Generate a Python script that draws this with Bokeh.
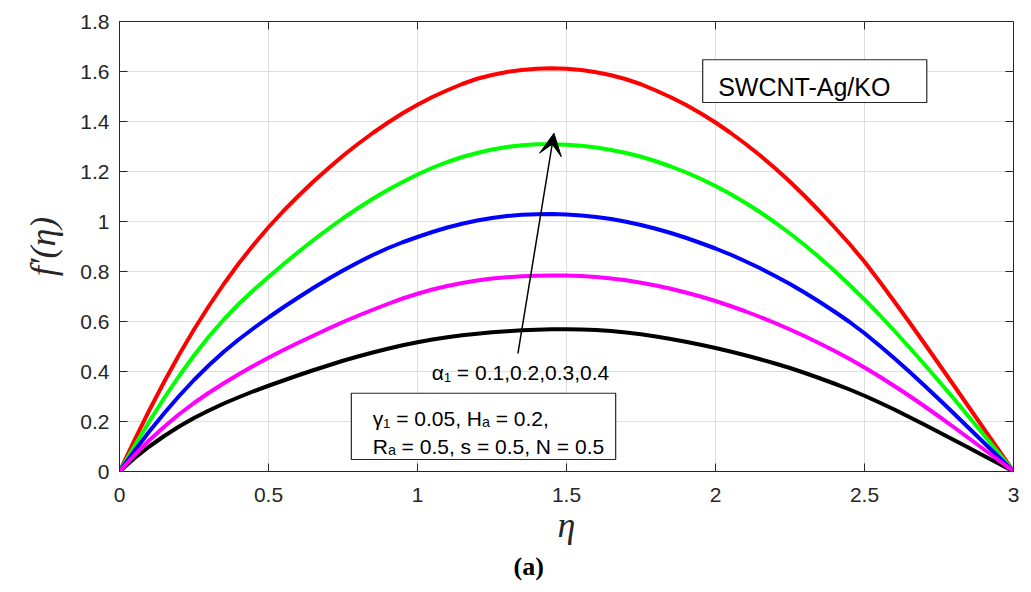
from bokeh.plotting import figure
from bokeh.models import Range1d, FixedTicker, Label, BoxAnnotation, Arrow, VeeHead, Title
from bokeh.embed import file_html
from bokeh.resources import INLINE

eta = [0.00, 0.05, 0.10, 0.15, 0.20, 0.25, 0.30, 0.35, 0.40, 0.45,
       0.50, 0.55, 0.60, 0.65, 0.70, 0.75, 0.80, 0.85, 0.90, 0.95,
       1.00, 1.05, 1.10, 1.15, 1.20, 1.25, 1.30, 1.35, 1.40, 1.45,
       1.50, 1.55, 1.60, 1.65, 1.70, 1.75, 1.80, 1.85, 1.90, 1.95,
       2.00, 2.05, 2.10, 2.15, 2.20, 2.25, 2.30, 2.35, 2.40, 2.45,
       2.50, 2.55, 2.60, 2.65, 2.70, 2.75, 2.80, 2.85, 2.90, 2.95, 3.00]

f_red = [0.000, 0.125, 0.245, 0.359, 0.467, 0.568, 0.662, 0.750, 0.832, 0.907,
         0.977, 1.042, 1.102, 1.159, 1.212, 1.263, 1.310, 1.354, 1.395, 1.433,
         1.467, 1.498, 1.525, 1.550, 1.571, 1.586, 1.598, 1.606, 1.611, 1.613,
         1.611, 1.606, 1.597, 1.585, 1.569, 1.549, 1.524, 1.497, 1.467, 1.433,
         1.396, 1.355, 1.311, 1.264, 1.213, 1.159, 1.101, 1.040, 0.976, 0.910,
         0.839, 0.761, 0.680, 0.598, 0.514, 0.429, 0.344, 0.258, 0.172, 0.086, 0.000]
f_green = [0.000, 0.102, 0.200, 0.294, 0.382, 0.464, 0.540, 0.608, 0.670, 0.726,
           0.778, 0.829, 0.878, 0.925, 0.970, 1.013, 1.053, 1.091, 1.126, 1.158,
           1.188, 1.215, 1.238, 1.258, 1.274, 1.288, 1.298, 1.305, 1.309, 1.309,
           1.307, 1.303, 1.296, 1.286, 1.274, 1.259, 1.241, 1.220, 1.197, 1.171,
           1.142, 1.110, 1.075, 1.037, 0.996, 0.952, 0.905, 0.855, 0.802, 0.746,
           0.688, 0.627, 0.563, 0.497, 0.430, 0.361, 0.291, 0.219, 0.147, 0.074, 0.000]
f_blue = [0.000, 0.082, 0.160, 0.233, 0.302, 0.366, 0.425, 0.479, 0.528, 0.573,
          0.616, 0.657, 0.696, 0.734, 0.770, 0.804, 0.836, 0.866, 0.893, 0.917,
          0.938, 0.958, 0.976, 0.991, 1.004, 1.014, 1.022, 1.027, 1.029, 1.030,
          1.028, 1.024, 1.018, 1.010, 0.999, 0.986, 0.971, 0.954, 0.935, 0.914,
          0.892, 0.868, 0.841, 0.813, 0.782, 0.750, 0.715, 0.678, 0.639, 0.598,
          0.553, 0.504, 0.453, 0.400, 0.345, 0.289, 0.232, 0.174, 0.116, 0.058, 0.000]
f_magenta = [0.000, 0.065, 0.125, 0.179, 0.229, 0.274, 0.315, 0.353, 0.389, 0.423,
             0.455, 0.486, 0.515, 0.543, 0.571, 0.598, 0.623, 0.647, 0.670, 0.692,
             0.711, 0.728, 0.742, 0.754, 0.764, 0.772, 0.777, 0.781, 0.783, 0.784,
             0.784, 0.782, 0.778, 0.772, 0.765, 0.755, 0.744, 0.731, 0.716, 0.700,
             0.682, 0.662, 0.641, 0.618, 0.594, 0.568, 0.541, 0.512, 0.482, 0.450,
             0.416, 0.380, 0.342, 0.303, 0.262, 0.220, 0.177, 0.133, 0.089, 0.045, 0.000]
f_black = [0.000, 0.053, 0.100, 0.142, 0.180, 0.214, 0.244, 0.272, 0.297, 0.321,
           0.343, 0.364, 0.385, 0.405, 0.424, 0.443, 0.460, 0.476, 0.491, 0.505,
           0.517, 0.528, 0.537, 0.545, 0.551, 0.557, 0.561, 0.565, 0.567, 0.569,
           0.569, 0.568, 0.566, 0.562, 0.556, 0.549, 0.540, 0.530, 0.519, 0.507,
           0.494, 0.480, 0.465, 0.449, 0.432, 0.414, 0.394, 0.373, 0.351, 0.328,
           0.303, 0.276, 0.248, 0.218, 0.188, 0.157, 0.126, 0.095, 0.063, 0.032, 0.000]

x_ticks = [0.0, 0.5, 1.0, 1.5, 2.0, 2.5, 3.0]
x_tick_labels = ["0", "0.5", "1", "1.5", "2", "2.5", "3"]
y_ticks = [0.0, 0.2, 0.4, 0.6, 0.8, 1.0, 1.2, 1.4, 1.6, 1.8]
y_tick_labels = ["0", "0.2", "0.4", "0.6", "0.8", "1", "1.2", "1.4", "1.6", "1.8"]

series = [(f_red, "#ff0000"), (f_green, "#00ff00"), (f_blue, "#0000ff"),
          (f_black, "#000000"), (f_magenta, "#ff00ff")]

AX = "#262626"
X0, X1, Y0, Y1 = 0.0, 3.0, 0.0, 1.8
FW, FH = 894, 450
TICK_PX = 8

p = figure(width=1023, height=592, output_backend="svg", toolbar_location=None,
           x_range=Range1d(X0, X1), y_range=Range1d(Y0, Y1),
           min_border_left=119, min_border_right=10, min_border_top=21, min_border_bottom=121,
           x_axis_label="η", y_axis_label="f′(η)")
p.background_fill_color = "white"
p.border_fill_color = "white"
p.outline_line_color = AX
p.outline_line_width = 1

p.xgrid.ticker = FixedTicker(ticks=x_ticks)
p.ygrid.ticker = FixedTicker(ticks=y_ticks)
for g in (p.xgrid[0], p.ygrid[0]):
    g.grid_line_color = "#dedede"
    g.grid_line_width = 1

for ys, c in series:
    p.line(eta, ys, line_color=c, line_width=4, line_join="round")

# inward ticks on the top and right edges (box on)
dy = (Y1 - Y0) / FH * TICK_PX
dx = (X1 - X0) / FW * TICK_PX
p.segment(x0=x_ticks, y0=[Y1] * len(x_ticks), x1=x_ticks, y1=[Y1 - dy] * len(x_ticks),
          line_color=AX, line_width=1)
p.segment(x0=[X1] * len(y_ticks), y0=y_ticks, x1=[X1 - dx] * len(y_ticks), y1=y_ticks,
          line_color=AX, line_width=1)

xa = p.xaxis[0]
ya = p.yaxis[0]
xa.ticker = FixedTicker(ticks=x_ticks)
ya.ticker = FixedTicker(ticks=y_ticks)
xa.major_label_overrides = dict(zip(x_ticks, x_tick_labels))
ya.major_label_overrides = dict(zip(y_ticks, y_tick_labels))
for a in (xa, ya):
    a.minor_tick_line_color = None
    a.major_tick_in = TICK_PX
    a.major_tick_out = 0
    a.major_tick_line_color = AX
    a.axis_line_color = AX
    a.major_label_text_font = "Liberation Sans"
    a.major_label_text_font_size = "21px"
    a.major_label_text_color = AX
    a.axis_label_text_font = "Liberation Serif"
    a.axis_label_text_font_style = "italic"
    a.axis_label_text_font_size = "36px"
    a.axis_label_text_color = AX
xa.major_label_standoff = 16
xa.axis_label_standoff = 0
ya.major_label_standoff = 10
ya.axis_label_standoff = 14

# annotation boxes
p.add_layout(BoxAnnotation(left=1.957, right=2.709, bottom=1.476, top=1.647,
                           fill_color="white", fill_alpha=1.0, line_color=AX,
                           line_alpha=1.0, line_width=1.2))
p.add_layout(BoxAnnotation(left=0.778, right=1.665, bottom=0.048, top=0.313,
                           fill_color="white", fill_alpha=1.0, line_color=AX,
                           line_alpha=1.0, line_width=1.2))

p.add_layout(Label(x=2.009, y=1.537, text="SWCNT-Ag/KO", text_font="Liberation Sans",
                   text_font_size="25px", text_color="black", text_baseline="alphabetic"))
p.add_layout(Label(x=0.85, y=0.212, text="γ₁ = 0.05, Hₐ = 0.2,", text_font="Liberation Sans",
                   text_font_size="21px", text_color="black", text_baseline="alphabetic"))
p.add_layout(Label(x=0.85, y=0.100, text="Rₐ = 0.5, s = 0.5, N = 0.5", text_font="Liberation Sans",
                   text_font_size="21px", text_color="black", text_baseline="alphabetic"))
p.add_layout(Label(x=1.048, y=0.397, text="α₁ = 0.1,0.2,0.3,0.4", text_font="Liberation Sans",
                   text_font_size="21px", text_color="black", text_baseline="alphabetic"))

p.add_layout(Arrow(end=VeeHead(size=22, fill_color="black", line_color="black"),
                   x_start=1.337, y_start=0.472, x_end=1.458, y_end=1.353,
                   line_color="black", line_width=1.5))

# sub-figure caption below the x-axis title
p.add_layout(Title(text="(a)", align="left", offset=394, text_font="Liberation Serif",
                   text_font_style="bold", text_font_size="26px", text_color="black",
                   standoff=5), "below")

open("out.html", "w").write(file_html(p, INLINE))
